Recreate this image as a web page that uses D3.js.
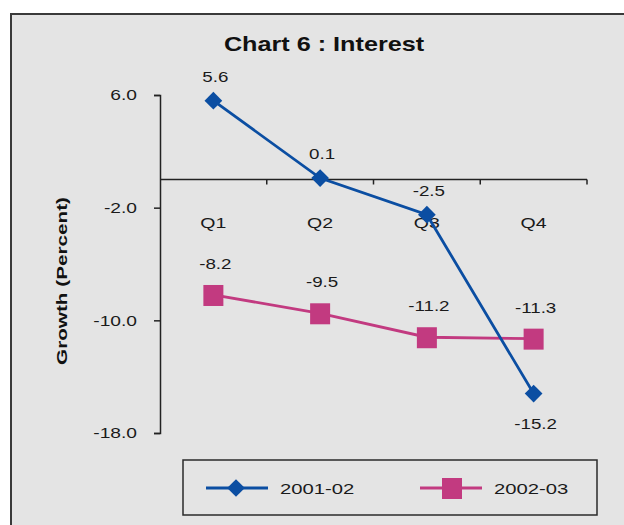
<!DOCTYPE html>
<html>
<head>
<meta charset="utf-8">
<script src="https://cdn.jsdelivr.net/npm/d3@7/dist/d3.min.js"></script>
<style>
  html, body { margin: 0; padding: 0; background: #ffffff; }
  svg { display: block; font-family: "Liberation Sans", Arial, sans-serif; }
</style>
</head>
<body>
<svg id="chart" width="624" height="525"></svg>
<script>
// Quarterly growth of interest payments, two fiscal years
const quarters = ["Q1", "Q2", "Q3", "Q4"];
const series2001 = [5.6, 0.1, -2.5, -15.2];
const series2002 = [-8.2, -9.5, -11.2, -11.3];
const seriesNames = ["2001-02", "2002-03"];
const yTicks = [6, -2, -10, -18];

const svg = d3.select("#chart");
const W = 624, H = 525;
const fmt = d => d.toFixed(1);

// widen glyphs of a text selection by a factor
function widen(sel, k) {
  sel.each(function () {
    const len = this.getComputedTextLength();
    d3.select(this).attr("textLength", len * k).attr("lengthAdjust", "spacingAndGlyphs");
  });
}

// panel background and frame
svg.append("rect")
  .attr("x", 11).attr("y", 14).attr("width", W).attr("height", H)
  .attr("fill", "#e4e4e4")
  .attr("stroke", "#3a3a3a").attr("stroke-width", 2);

const plotLeft = 160, plotRight = 587;
const x = d3.scaleBand().domain(quarters).range([plotLeft, plotRight]);
const y = d3.scaleLinear().domain([-18, 6]).range([433, 95]);

const blue = "#0b4ea2";
const pink = "#c23a80";

// title
svg.append("text")
  .attr("x", 324).attr("y", 51)
  .attr("text-anchor", "middle")
  .attr("font-size", 21).attr("font-weight", "bold")
  .attr("fill", "#111")
  .text("Chart 6 : Interest")
  .call(widen, 1.2);

// y axis title
svg.append("text")
  .attr("transform", "translate(67,281) rotate(-90)")
  .attr("text-anchor", "middle")
  .attr("font-size", 15).attr("font-weight", "bold")
  .attr("fill", "#111")
  .text("Growth (Percent)")
  .call(widen, 1.38);

// y axis
const yAxis = d3.axisLeft(y)
  .tickValues(yTicks)
  .tickFormat(fmt)
  .tickSize(6).tickPadding(17);
const gy = svg.append("g")
  .attr("transform", `translate(${plotLeft},0)`)
  .call(yAxis);
gy.select(".domain").attr("stroke", "#222").attr("stroke-width", 1.5);
gy.selectAll(".tick line").attr("stroke", "#222").attr("stroke-width", 1.5);
gy.selectAll(".tick text")
  .attr("font-size", 15).attr("fill", "#1a1a1a")
  .attr("font-family", "Liberation Sans, Arial, sans-serif")
  .call(widen, 1.28);

// x axis along zero, category boundary ticks
const gx = svg.append("g");
gx.append("line")
  .attr("x1", plotLeft).attr("x2", plotRight)
  .attr("y1", y(0)).attr("y2", y(0))
  .attr("stroke", "#222").attr("stroke-width", 1.5);
const bounds = quarters.map(q => x(q) + x.bandwidth());
gx.selectAll("line.tk").data(bounds).enter().append("line")
  .attr("class", "tk")
  .attr("x1", d => d).attr("x2", d => d)
  .attr("y1", y(0)).attr("y2", y(0) + 5)
  .attr("stroke", "#222").attr("stroke-width", 1.5);
gx.selectAll("text").data(quarters).enter().append("text")
  .attr("x", d => x(d) + x.bandwidth() / 2)
  .attr("y", 228)
  .attr("text-anchor", "middle")
  .attr("font-size", 15).attr("fill", "#1a1a1a")
  .text(d => d)
  .call(widen, 1.3);

const cx = q => x(q) + x.bandwidth() / 2;
const line = d3.line().x((d, i) => cx(quarters[i])).y(d => y(d));

// 2002-03 series (squares)
svg.append("path").datum(series2002)
  .attr("d", line).attr("fill", "none")
  .attr("stroke", pink).attr("stroke-width", 2.8);
svg.selectAll("rect.sq").data(series2002).enter().append("rect")
  .attr("class", "sq")
  .attr("x", (d, i) => cx(quarters[i]) - 10)
  .attr("y", d => y(d) - 10)
  .attr("width", 20).attr("height", 21)
  .attr("fill", pink);
svg.selectAll("text.lp").data(series2002).enter().append("text")
  .attr("class", "lp")
  .attr("x", (d, i) => cx(quarters[i]) + 2)
  .attr("y", d => y(d) - 26)
  .attr("text-anchor", "middle")
  .attr("font-size", 15).attr("fill", "#1a1a1a")
  .text(fmt)
  .call(widen, 1.25);

// 2001-02 series (diamonds)
svg.append("path").datum(series2001)
  .attr("d", line).attr("fill", "none")
  .attr("stroke", blue).attr("stroke-width", 2.8);
const diamond = d3.symbol().type(d3.symbolDiamond2).size(200);
svg.selectAll("path.dm").data(series2001).enter().append("path")
  .attr("class", "dm")
  .attr("d", diamond)
  .attr("transform", (d, i) => `translate(${cx(quarters[i])},${y(d)})`)
  .attr("fill", blue);
svg.selectAll("text.lb").data(series2001).enter().append("text")
  .attr("class", "lb")
  .attr("x", (d, i) => cx(quarters[i]) + 2)
  .attr("y", d => d < -10 ? y(d) + 35 : y(d) - 19)
  .attr("text-anchor", "middle")
  .attr("font-size", 15).attr("fill", "#1a1a1a")
  .text(fmt)
  .call(widen, 1.25);

// legend
const lg = svg.append("g");
lg.append("rect")
  .attr("x", 183).attr("y", 460).attr("width", 414).attr("height", 55)
  .attr("fill", "#e4e4e4").attr("stroke", "#2a2a2a").attr("stroke-width", 1.5);
const items = [
  { name: seriesNames[0], color: blue, x0: 206, type: "d" },
  { name: seriesNames[1], color: pink, x0: 420, type: "s" }
];
items.forEach(it => {
  const ly = 488;
  lg.append("line")
    .attr("x1", it.x0).attr("x2", it.x0 + 62)
    .attr("y1", ly).attr("y2", ly)
    .attr("stroke", it.color).attr("stroke-width", 2.8);
  if (it.type === "d") {
    lg.append("path").attr("d", diamond)
      .attr("transform", `translate(${it.x0 + 30},${ly})`)
      .attr("fill", it.color);
  } else {
    lg.append("rect")
      .attr("x", it.x0 + 22).attr("y", ly - 10)
      .attr("width", 20).attr("height", 21)
      .attr("fill", it.color);
  }
  lg.append("text")
    .attr("x", it.x0 + 74).attr("y", ly + 6)
    .attr("font-size", 15).attr("fill", "#1a1a1a")
    .text(it.name)
    .call(widen, 1.35);
});
</script>
</body>
</html>
